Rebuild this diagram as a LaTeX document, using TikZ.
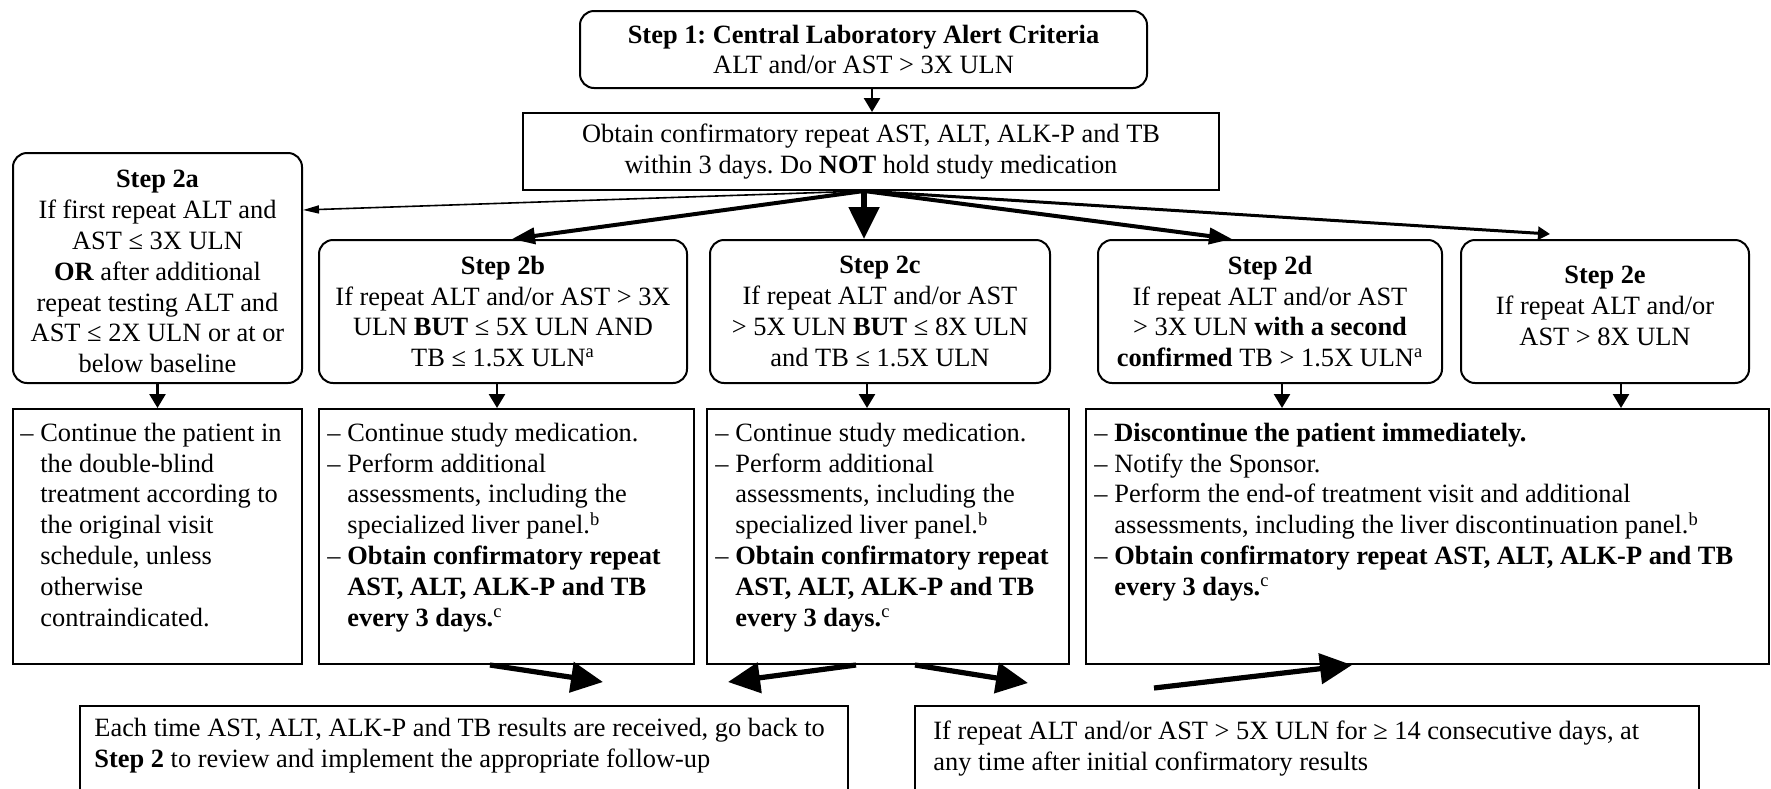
\documentclass[tikz,border=0pt]{standalone}
\usepackage{fontspec}
\setmainfont{Liberation Serif}
\usetikzlibrary{arrows.meta}
\newcommand\mydash{\makebox[10pt][l]{–}}
\newcommand\myind{\hspace*{10pt}}
\frenchspacing
\begin{document}
\begin{tikzpicture}[x=0.5pt,y=-0.5pt,
  font=\fontsize{13.2}{15.4}\selectfont\frenchspacing,
  rbox/.style={draw, line width=1pt, rounded corners=7pt, align=center, inner sep=0pt},
  sbox/.style={draw, line width=1pt, inner sep=0pt},
  txt/.style={anchor=north west, align=left, inner sep=0pt},
  sarrow/.style={line width=1.3pt, -{Triangle[length=7pt,width=8pt]}},
  thinarrow/.style={line width=0.8pt, -{Triangle[length=8pt,width=4pt]}},
  medarrow/.style={line width=1.5pt, -{Triangle[length=6pt,width=6.5pt]}},
  thickarrow/.style={line width=2pt, -{Triangle[length=11.5pt,width=8pt]}},
  bigarrow/.style={line width=2.6pt, -{Triangle[length=16pt,width=15pt]}},
]
\useasboundingbox (0,0) rectangle (1771,788);
\clip (0,0) rectangle (1771,788);

% top boxes
\node[rbox, minimum width=283.5pt, minimum height=38.5pt] (s1) at (863.5,49.5)
  {\textbf{Step 1: Central Laboratory Alert Criteria}\\ ALT and/or AST > 3X ULN};
\node[sbox, align=center, minimum width=348pt, minimum height=38.5pt] (obt) at (871,151.5)
  {Obtain confirmatory repeat AST, ALT, ALK-P and TB\\ within 3 days. Do \textbf{NOT} hold study medication};

% step 2 boxes
\node[rbox, minimum width=144.5pt, minimum height=115pt] (s2a) at (157.5,268)
  {\rule{0pt}{12.4pt}\textbf{Step 2a}\\ If first repeat ALT and\\ AST ≤ 3X ULN\\ \textbf{OR} after additional\\ repeat testing ALT and\\ AST ≤ 2X ULN or at or\\ below baseline};
\node[rbox, minimum width=184pt, minimum height=71.5pt] (s2b) at (503,311.5)
  {\textbf{Step 2b}\\ If repeat ALT and/or AST > 3X\\ ULN \textbf{BUT} ≤ 5X ULN AND\\ TB ≤ 1.5X ULN\textsuperscript{a}};
\node[rbox, minimum width=170pt, minimum height=71.5pt] (s2c) at (880,311.5)
  {\textbf{Step 2c}\\ If repeat ALT and/or AST\\ > 5X ULN \textbf{BUT} ≤ 8X ULN\\ and TB ≤ 1.5X ULN};
\node[rbox, minimum width=172pt, minimum height=71.5pt] (s2d) at (1270,311.5)
  {\textbf{Step 2d}\\ If repeat ALT and/or AST\\ > 3X ULN \textbf{with a second}\\ \textbf{confirmed} TB > 1.5X ULN\textsuperscript{a}};
\node[rbox, minimum width=144pt, minimum height=71.5pt] (s2e) at (1605,311.5)
  {\textbf{Step 2e}\\ If repeat ALT and/or\\ AST > 8X ULN\rule[-5.6pt]{0pt}{0pt}};

% action boxes
\node[sbox, minimum width=144.5pt, minimum height=127.5pt] (lowa) at (157.5,536.5) {};
\node[sbox, minimum width=187.5pt, minimum height=127.5pt] (lowb) at (506.5,536.5) {};
\node[sbox, minimum width=181pt, minimum height=127.5pt] (lowc) at (888,536.5) {};
\node[sbox, minimum width=341.5pt, minimum height=127.5pt] (lowd) at (1427.5,536.5) {};

\node[txt] (ta) at (20,419.4)
  {\strut\mydash Continue the patient in\\ \myind the double-blind\\ \myind treatment according to\\ \myind the original visit\\ \myind schedule, unless\\ \myind otherwise\\ \myind contraindicated.};
\node[txt] (tb) at (327,419.4)
  {\strut\mydash Continue study medication.\\ \mydash Perform additional\\ \myind assessments, including the\\ \myind specialized liver panel.\textsuperscript{b}\\ \mydash\textbf{Obtain confirmatory repeat}\\ \myind\textbf{AST, ALT, ALK-P and TB}\\ \myind\textbf{every 3 days.}\textsuperscript{c}};
\node[txt] (tc) at (715,419.4)
  {\strut\mydash Continue study medication.\\ \mydash Perform additional\\ \myind assessments, including the\\ \myind specialized liver panel.\textsuperscript{b}\\ \mydash\textbf{Obtain confirmatory repeat}\\ \myind\textbf{AST, ALT, ALK-P and TB}\\ \myind\textbf{every 3 days.}\textsuperscript{c}};
\node[txt] (td) at (1094,419.4)
  {\strut\mydash\textbf{Discontinue the patient immediately.}\\ \mydash Notify the Sponsor.\\ \mydash Perform the end-of treatment visit and additional\\ \myind assessments, including the liver discontinuation panel.\textsuperscript{b}\\ \mydash\textbf{Obtain confirmatory repeat AST, ALT, ALK-P and TB}\\ \myind\textbf{every 3 days.}\textsuperscript{c}};

% bottom boxes (cut by the page edge)
\node[sbox, minimum width=384pt, minimum height=47pt] (botl) at (464,753) {};
\node[sbox, minimum width=392pt, minimum height=47pt] (botr) at (1307,753) {};
\node[txt] (tbl) at (94,714.4)
  {\strut Each time AST, ALT, ALK-P and TB results are received, go back to\\ \textbf{Step 2} to review and implement the appropriate follow-up};
\node[txt] (tbr) at (933,717.4)
  {\strut If repeat ALT and/or AST > 5X ULN for ≥ 14 consecutive days, at\\ any time after initial confirmatory results};

% connectors
\draw[sarrow] ([xshift=4.25pt]s1.south) -- ([xshift=0.5pt]obt.north);
\draw[thinarrow] ([xshift=-3.5pt]obt.south) -- ([yshift=-29pt]s2a.north east);
\draw[thickarrow] ([xshift=-3.5pt]obt.south) -- ([xshift=4.5pt]s2b.north);
\draw[bigarrow] ([xshift=-3.5pt]obt.south) -- ([xshift=-8pt]s2c.north);
\draw[thickarrow] ([xshift=-3.5pt]obt.south) -- ([xshift=-19pt]s2d.north);
\draw[medarrow] ([xshift=-3.5pt]obt.south) -- ([xshift=-27.5pt,yshift=2.5pt]s2e.north);

\draw[sarrow] (s2a.south) -- (lowa.north);
\draw[sarrow] ([xshift=-3pt]s2b.south) -- ([xshift=-4.75pt]lowb.north);
\draw[sarrow] ([xshift=-6.5pt]s2c.south) -- ([xshift=-10.5pt]lowc.north);
\draw[sarrow] ([xshift=6pt]s2d.south) -- ([xshift=-72.75pt]lowd.north);
\draw[sarrow] ([xshift=8pt]s2e.south) -- ([xshift=96.75pt]lowd.north);

\draw[bigarrow] ([xshift=-8.25pt]lowb.south) -- ([xshift=69.5pt,yshift=11.5pt]botl.north);
\draw[bigarrow] ([xshift=-16pt]lowc.south) -- ([xshift=132pt,yshift=11.5pt]botl.north);
\draw[bigarrow] ([xshift=13.5pt]lowc.south) -- ([xshift=-139.5pt,yshift=11pt]botr.north);
\draw[bigarrow] ([xshift=-76.5pt,yshift=8.5pt]botr.north) -- ([xshift=-37.75pt]lowd.south);
\end{tikzpicture}
\end{document}
